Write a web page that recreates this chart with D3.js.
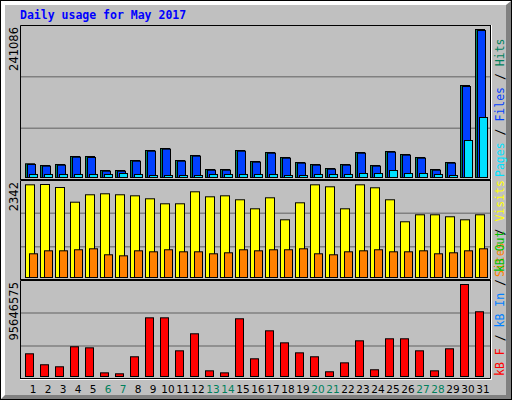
<!DOCTYPE html>
<html><head><meta charset="utf-8">
<script src="https://cdn.jsdelivr.net/npm/d3@7"></script>
<style>body{margin:0;background:#fff}svg{display:block}</style>
</head><body>
<svg id="svg" width="512" height="400"></svg>
<script>
// values
const days = d3.range(1, 32);
const weekends = [6, 7, 13, 14, 20, 21, 27, 28];
const hits = [22300, 19550, 21180, 34210, 34210, 11400, 11400, 27690, 43980, 47240, 27690, 35840, 13030, 13030, 43980, 26060,
  40720, 32580, 24430, 21180, 14660, 21180, 40720, 19550, 42350, 37470, 32580, 13030, 24430, 149870, 241086];
const files = [21200, 18500, 20100, 33100, 32600, 10300, 10300, 26600, 42900, 46200, 26600, 34800, 11900, 11900, 42900, 25000,
  39600, 31500, 23400, 20100, 13600, 20100, 39600, 18500, 41300, 36400, 31500, 11900, 23400, 148200, 239400];
const pages = [4900, 4900, 4900, 4900, 4900, 4900, 6500, 4900, 3260, 3260, 3260, 3260, 4900, 4900, 4900, 4900,
  4900, 3260, 3260, 4900, 4900, 4900, 6500, 6500, 11400, 6500, 6500, 4900, 3260, 60270, 97740];
const visits = [2334, 2342, 2266, 1896, 2083, 2108, 2083, 2057, 1982, 1856, 1856, 2158, 2032, 2057, 1957, 1730,
  2007, 1453, 1881, 2334, 2284, 1730, 2334, 2259, 1957, 1403, 1579, 1579, 1529, 1453, 1579];
const sites = [597, 672, 672, 698, 723, 572, 546, 672, 647, 698, 647, 647, 597, 622, 698, 672,
  698, 698, 723, 597, 572, 647, 672, 698, 647, 647, 672, 597, 622, 672, 723];
const kbytes = [23.6, 12.2, 10.1, 30.9, 29.8, 3.8, 2.8, 20.5, 61.0, 61.0, 26.7, 44.4, 5.9, 3.8, 60.0, 18.4,
  47.5, 35.0, 24.6, 20.5, 4.9, 14.2, 37.1, 7.0, 39.2, 39.2, 26.7, 5.9, 28.8, 95.6465, 67.3].map(v => v * 1e6);
const maxLabels = ['241086', '2342', '95646575'];

const svg = d3.select('#svg');
const face = '#C0C0C0';

// frame with bevel
svg.append('rect').attr('width', 512).attr('height', 400).attr('fill', '#000');
svg.append('rect').attr('x', 1).attr('y', 1).attr('width', 510).attr('height', 398).attr('fill', '#fff');
svg.append('path').attr('d', 'M511,1 L511,399 L1,399 L5,395 L506,395 L506,5 Z').attr('fill', '#808080');
svg.append('rect').attr('x', 5).attr('y', 5).attr('width', 501).attr('height', 390).attr('fill', face);

svg.append('text').attr('x', 20).attr('y', 19)
  .attr('font-family', 'DejaVu Sans Mono').attr('font-weight', 'bold').attr('font-size', 11.5)
  .attr('fill', '#0000FF').text('Daily usage for May 2017');

const x = d3.scaleBand().domain(days).range([20, 485]);

const panels = [
  { top: 25, bottom: 180, base: 177, peak: 29, max: 241086,
    series: [{ v: hits, c: '#00805C', dx: 5, w: 9 }, { v: files, c: '#0040FF', dx: 7, w: 8 }, { v: pages, c: '#00E0FF', dx: 9, w: 8 }],
    legend: [['Pages', '#00E0FF'], [' / ', '#000'], ['Files', '#0040FF'], [' / ', '#000'], ['Hits', '#00805C']] },
  { top: 180, bottom: 280, base: 277, peak: 184, max: 2342,
    series: [{ v: visits, c: '#FFFF00', dx: 5, w: 9 }, { v: sites, c: '#FF8000', dx: 9, w: 8 }],
    legend: [['Sites', '#FF8000'], [' / ', '#000'], ['Visits', '#FFFF00']] },
  { top: 280, bottom: 379, base: 376, peak: 284, max: 95646575,
    series: [{ v: kbytes, c: '#FF0000', dx: 5, w: 8 }],
    legend: [['kB F', '#FF0000'], [' / ', '#000'], ['kB In', '#0080FF'], [' / ', '#000'], ['kB Out', '#00C000']] }
];

panels.forEach((p, i) => {
  const y = d3.scaleLinear().domain([0, p.max]).range([p.base, p.peak]);
  const h = p.bottom - p.top;
  [1, 2].forEach(k => svg.append('line').attr('x1', 20).attr('x2', 491)
    .attr('y1', p.top + h * k / 3).attr('y2', p.top + h * k / 3).attr('stroke', '#808080').attr('stroke-width', 1.5));
  p.series.forEach(s => {
    svg.append('g').selectAll('rect').data(s.v).join('rect')
      .attr('x', (d, j) => x(days[j]) + s.dx + 0.5)
      .attr('y', d => y(d) + 0.5)
      .attr('width', s.w)
      .attr('height', d => p.base - y(d))
      .attr('fill', s.c).attr('stroke', '#000').attr('stroke-width', 1);
  });
  // panel border
  svg.append('path').attr('d', `M20.5,${p.bottom}V${p.top + 0.5}H491`).attr('fill', 'none').attr('stroke', '#000');
  svg.append('path').attr('d', `M20,${p.bottom - 0.5}H490.5V${p.top}`).attr('fill', 'none').attr('stroke', '#000');
  svg.append('path').attr('d', `M20,${p.bottom + 0.5}H491.5V${p.top}`).attr('fill', 'none').attr('stroke', '#fff');
  // max label
  svg.append('text').attr('transform', `translate(18,${p.top + 2}) rotate(-90)`)
    .attr('text-anchor', 'end').attr('font-family', 'DejaVu Sans').attr('font-size', 11.5)
    .attr('fill', '#000').text(maxLabels[i]);
  // legend, drawn upward from the panel bottom
  const t = svg.append('text').attr('transform', `translate(504,${p.bottom - 3}) rotate(-90)`)
    .attr('text-anchor', 'start').attr('font-family', 'DejaVu Sans Mono').attr('font-size', 11.5)
    .attr('xml:space', 'preserve');
  p.legend.forEach(([s, c]) => t.append('tspan').attr('fill', c).text(s));
});

svg.append('g').selectAll('text').data(days).join('text')
  .attr('x', d => x(d) + 13).attr('y', 393)
  .attr('text-anchor', 'middle').attr('font-family', 'DejaVu Sans').attr('font-size', 10.5)
  .attr('fill', d => weekends.includes(d) ? '#00805C' : '#000').text(d => d);
</script>
</body></html>
